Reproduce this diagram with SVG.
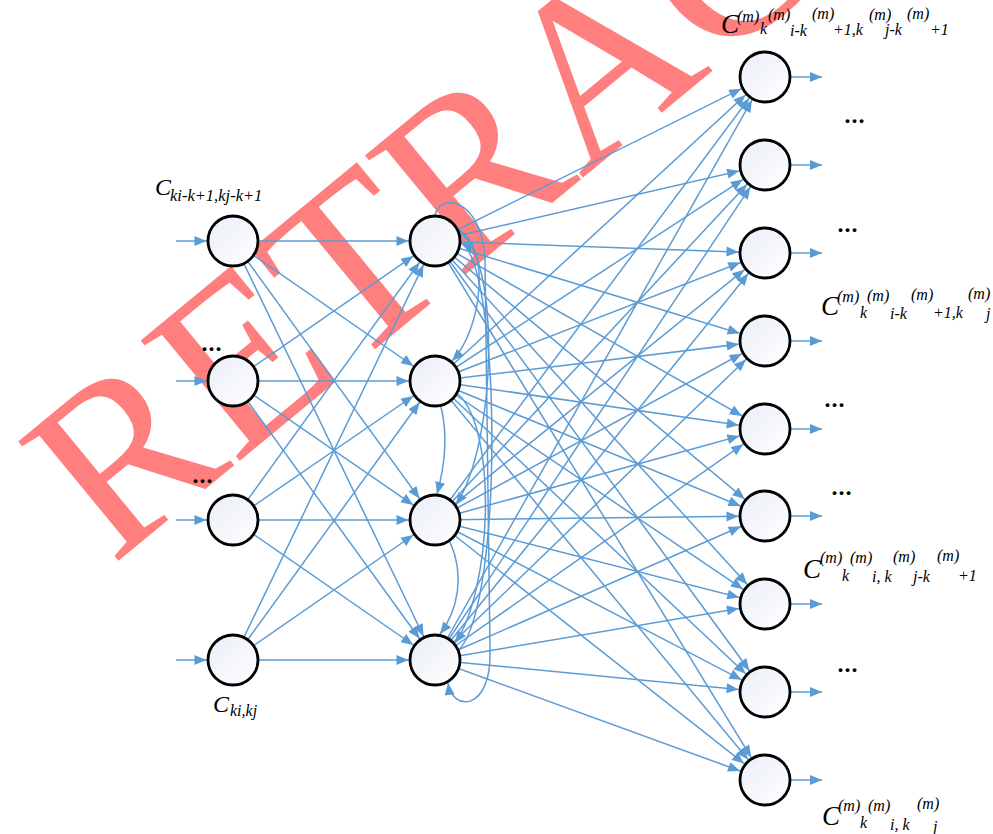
<svg xmlns="http://www.w3.org/2000/svg" width="993" height="834" viewBox="0 0 993 834">
<defs>
<style>
.c{stroke:#5b9bd5;stroke-width:1.5;fill:none}
.e{marker-end:url(#ao)}
.t{marker-end:url(#at)}
.n{fill:url(#g);stroke:#000;stroke-width:2.8}
.lb{font-family:"Liberation Serif","Tinos","Times New Roman",serif;font-style:italic;fill:#000}
.big{font-size:27px}
.sm{font-size:16px}
.dots{font-family:"Liberation Serif","Tinos","Times New Roman",serif;font-weight:bold;font-size:24px;letter-spacing:1px;fill:#000;text-anchor:middle}
.wm{font-family:"Liberation Serif","Tinos","Times New Roman",serif;font-size:238px;fill:#ff7f7f}
</style>
<linearGradient id="g" x1="0" y1="0" x2="1" y2="1">
<stop offset="0" stop-color="#eaeef7"/>
<stop offset="1" stop-color="#ffffff"/>
</linearGradient>
<marker id="ao" markerUnits="userSpaceOnUse" markerWidth="12" markerHeight="10" refX="38.5" refY="5" orient="auto" overflow="visible">
<path d="M0,0 L12,5 L0,10 z" fill="#5b9bd5"/>
</marker>
<marker id="at" markerUnits="userSpaceOnUse" markerWidth="12" markerHeight="10" refX="12" refY="5" orient="auto" overflow="visible">
<path d="M0,0 L12,5 L0,10 z" fill="#5b9bd5"/>
</marker>
</defs>
<rect width="993" height="834" fill="#fff"/>
<text id="watermark" class="wm" x="112" y="566" transform="rotate(-39.5 112 566)">RETRACTED</text>
<g id="connectors">
<line class="c e" x1="176" y1="241" x2="233" y2="241"/>
<line class="c e" x1="176" y1="381" x2="233" y2="381"/>
<line class="c e" x1="176" y1="520" x2="233" y2="520"/>
<line class="c e" x1="176" y1="660" x2="233" y2="660"/>
<line class="c e" x1="233" y1="241" x2="435" y2="241"/>
<line class="c e" x1="233" y1="241" x2="435" y2="381"/>
<line class="c e" x1="233" y1="241" x2="435" y2="520"/>
<line class="c e" x1="233" y1="241" x2="435" y2="660"/>
<line class="c e" x1="233" y1="381" x2="435" y2="241"/>
<line class="c e" x1="233" y1="381" x2="435" y2="381"/>
<line class="c e" x1="233" y1="381" x2="435" y2="520"/>
<line class="c e" x1="233" y1="381" x2="435" y2="660"/>
<line class="c e" x1="233" y1="520" x2="435" y2="241"/>
<line class="c e" x1="233" y1="520" x2="435" y2="381"/>
<line class="c e" x1="233" y1="520" x2="435" y2="520"/>
<line class="c e" x1="233" y1="520" x2="435" y2="660"/>
<line class="c e" x1="233" y1="660" x2="435" y2="241"/>
<line class="c e" x1="233" y1="660" x2="435" y2="381"/>
<line class="c e" x1="233" y1="660" x2="435" y2="520"/>
<line class="c e" x1="233" y1="660" x2="435" y2="660"/>
<line class="c e" x1="435" y1="241" x2="765" y2="77"/>
<line class="c e" x1="435" y1="241" x2="765" y2="165"/>
<line class="c e" x1="435" y1="241" x2="765" y2="253"/>
<line class="c e" x1="435" y1="241" x2="765" y2="341"/>
<line class="c e" x1="435" y1="241" x2="765" y2="429"/>
<line class="c e" x1="435" y1="241" x2="765" y2="516"/>
<line class="c e" x1="435" y1="241" x2="765" y2="604"/>
<line class="c e" x1="435" y1="241" x2="765" y2="692"/>
<line class="c e" x1="435" y1="241" x2="765" y2="780"/>
<line class="c e" x1="435" y1="381" x2="765" y2="77"/>
<line class="c e" x1="435" y1="381" x2="765" y2="165"/>
<line class="c e" x1="435" y1="381" x2="765" y2="253"/>
<line class="c e" x1="435" y1="381" x2="765" y2="341"/>
<line class="c e" x1="435" y1="381" x2="765" y2="429"/>
<line class="c e" x1="435" y1="381" x2="765" y2="516"/>
<line class="c e" x1="435" y1="381" x2="765" y2="604"/>
<line class="c e" x1="435" y1="381" x2="765" y2="692"/>
<line class="c e" x1="435" y1="381" x2="765" y2="780"/>
<line class="c e" x1="435" y1="520" x2="765" y2="77"/>
<line class="c e" x1="435" y1="520" x2="765" y2="165"/>
<line class="c e" x1="435" y1="520" x2="765" y2="253"/>
<line class="c e" x1="435" y1="520" x2="765" y2="341"/>
<line class="c e" x1="435" y1="520" x2="765" y2="429"/>
<line class="c e" x1="435" y1="520" x2="765" y2="516"/>
<line class="c e" x1="435" y1="520" x2="765" y2="604"/>
<line class="c e" x1="435" y1="520" x2="765" y2="692"/>
<line class="c e" x1="435" y1="520" x2="765" y2="780"/>
<line class="c e" x1="435" y1="660" x2="765" y2="77"/>
<line class="c e" x1="435" y1="660" x2="765" y2="165"/>
<line class="c e" x1="435" y1="660" x2="765" y2="253"/>
<line class="c e" x1="435" y1="660" x2="765" y2="341"/>
<line class="c e" x1="435" y1="660" x2="765" y2="429"/>
<line class="c e" x1="435" y1="660" x2="765" y2="516"/>
<line class="c e" x1="435" y1="660" x2="765" y2="604"/>
<line class="c e" x1="435" y1="660" x2="765" y2="692"/>
<line class="c e" x1="435" y1="660" x2="765" y2="780"/>
<path class="c t" d="M457,229 C492,245 482,330 452,361"/>
<path class="c t" d="M441,407 C448,435 445,465 437,494"/>
<path class="c t" d="M450,542 C465,575 458,610 440,634"/>
<path class="c t" d="M459,232 C500,255 498,440 456,505"/>
<path class="c t" d="M435,215 C440,192 482,198 485,260 L490,650 C492,712 452,712 448,683"/>
<path class="c t" d="M458,394 C498,430 492,590 455,643"/>
<path class="c t" d="M459,650 C505,600 500,262 461,243"/>
<line class="c t" x1="790" y1="77" x2="822" y2="77"/>
<line class="c t" x1="790" y1="165" x2="822" y2="165"/>
<line class="c t" x1="790" y1="253" x2="822" y2="253"/>
<line class="c t" x1="790" y1="341" x2="822" y2="341"/>
<line class="c t" x1="790" y1="429" x2="822" y2="429"/>
<line class="c t" x1="790" y1="516" x2="822" y2="516"/>
<line class="c t" x1="790" y1="604" x2="822" y2="604"/>
<line class="c t" x1="790" y1="692" x2="822" y2="692"/>
<line class="c t" x1="790" y1="780" x2="822" y2="780"/>
</g>
<g id="in1"><circle class="n" cx="233" cy="241" r="25"/></g>
<g id="in2"><circle class="n" cx="233" cy="381" r="25"/></g>
<g id="in3"><circle class="n" cx="233" cy="520" r="25"/></g>
<g id="in4"><circle class="n" cx="233" cy="660" r="25"/></g>
<g id="h1"><circle class="n" cx="435" cy="241" r="25"/></g>
<g id="h2"><circle class="n" cx="435" cy="381" r="25"/></g>
<g id="h3"><circle class="n" cx="435" cy="520" r="25"/></g>
<g id="h4"><circle class="n" cx="435" cy="660" r="25"/></g>
<g id="o1"><circle class="n" cx="765" cy="77" r="25"/></g>
<g id="o2"><circle class="n" cx="765" cy="165" r="25"/></g>
<g id="o3"><circle class="n" cx="765" cy="253" r="25"/></g>
<g id="o4"><circle class="n" cx="765" cy="341" r="25"/></g>
<g id="o5"><circle class="n" cx="765" cy="429" r="25"/></g>
<g id="o6"><circle class="n" cx="765" cy="516" r="25"/></g>
<g id="o7"><circle class="n" cx="765" cy="604" r="25"/></g>
<g id="o8"><circle class="n" cx="765" cy="692" r="25"/></g>
<g id="o9"><circle class="n" cx="765" cy="780" r="25"/></g>
<g id="labels">
<text class="lb"><tspan x="155" y="195" font-size="24">C</tspan><tspan x="170" y="201" font-size="16.5">ki-k+1,kj-k+1</tspan></text>
<text class="lb"><tspan x="213" y="712" font-size="24">C</tspan><tspan class="sm" x="230" y="716">ki,kj</tspan></text>
<text class="lb"><tspan class="big" x="721" y="33">C</tspan><tspan class="sm" x="737" y="22">(m)</tspan><tspan class="sm" x="760" y="34">k</tspan><tspan class="sm" x="768" y="20">(m)</tspan><tspan class="sm" x="790" y="36">i-k</tspan><tspan class="sm" x="812" y="19">(m)</tspan><tspan class="sm" x="833" y="35">+1,k</tspan><tspan class="sm" x="869" y="20">(m)</tspan><tspan class="sm" x="885" y="35">j-k</tspan><tspan class="sm" x="907" y="19">(m)</tspan><tspan class="sm" x="930" y="35">+1</tspan></text>
<text class="lb"><tspan class="big" x="821" y="315">C</tspan><tspan class="sm" x="837" y="302">(m)</tspan><tspan class="sm" x="860" y="318">k</tspan><tspan class="sm" x="867" y="301">(m)</tspan><tspan class="sm" x="890" y="319">i-k</tspan><tspan class="sm" x="911" y="300">(m)</tspan><tspan class="sm" x="933" y="318">+1,k</tspan><tspan class="sm" x="968" y="299">(m)</tspan><tspan class="sm" x="986" y="319">j</tspan></text>
<text class="lb"><tspan class="big" x="803" y="578">C</tspan><tspan class="sm" x="820" y="563">(m)</tspan><tspan class="sm" x="842" y="581">k</tspan><tspan class="sm" x="850" y="563">(m)</tspan><tspan class="sm" x="872" y="582">i, k</tspan><tspan class="sm" x="893" y="562">(m)</tspan><tspan class="sm" x="913" y="582">j-k</tspan><tspan class="sm" x="937" y="561">(m)</tspan><tspan class="sm" x="958" y="581">+1</tspan></text>
<text class="lb"><tspan class="big" x="822" y="825">C</tspan><tspan class="sm" x="838" y="811">(m)</tspan><tspan class="sm" x="860" y="828">k</tspan><tspan class="sm" x="868" y="811">(m)</tspan><tspan class="sm" x="890" y="830">i, k</tspan><tspan class="sm" x="917" y="809">(m)</tspan><tspan class="sm" x="933" y="832">j</tspan></text>
<text class="dots" x="212" y="351">...</text>
<text class="dots" x="203" y="483">...</text>
<text class="dots" x="855" y="123">...</text>
<text class="dots" x="848" y="232">...</text>
<text class="dots" x="835" y="407">...</text>
<text class="dots" x="842" y="495">...</text>
<text class="dots" x="848" y="672">...</text>
</g>
</svg>
